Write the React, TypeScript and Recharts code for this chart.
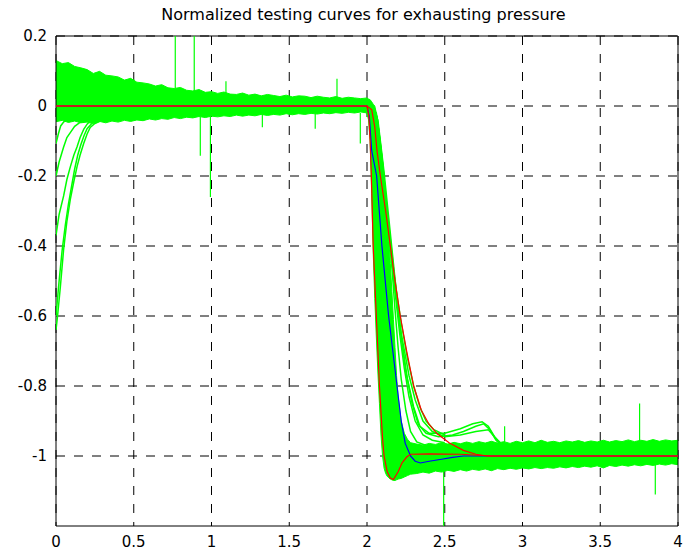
import { ComposedChart, XAxis, YAxis, CartesianGrid, Area, Line, ReferenceArea } from "recharts";

const title = "Normalized testing curves for exhausting pressure";
const xTicks = [0, 0.5, 1, 1.5, 2, 2.5, 3, 3.5, 4];
const yTicks = [0.2, 0, -0.2, -0.4, -0.6, -0.8, -1];

// envelope of all test runs, [time, low, high]
const bandBefore: [number, number, number][] = [
  [0.0, -0.045, 0.13], [0.04, -0.041, 0.121], [0.08, -0.047, 0.124], [0.12, -0.043, 0.113],
  [0.16, -0.048, 0.109], [0.2, -0.046, 0.104], [0.24, -0.051, 0.093], [0.28, -0.044, 0.099],
  [0.32, -0.048, 0.088], [0.36, -0.043, 0.086], [0.4, -0.046, 0.083], [0.44, -0.041, 0.074],
  [0.48, -0.044, 0.079], [0.52, -0.04, 0.068], [0.56, -0.042, 0.066], [0.6, -0.037, 0.063],
  [0.64, -0.04, 0.057], [0.68, -0.036, 0.061], [0.72, -0.038, 0.052], [0.76, -0.033, 0.05],
  [0.8, -0.036, 0.053], [0.84, -0.032, 0.045], [0.88, -0.034, 0.043], [0.92, -0.03, 0.047],
  [0.96, -0.033, 0.039], [1.0, -0.029, 0.041], [1.04, -0.031, 0.036], [1.08, -0.028, 0.04],
  [1.12, -0.03, 0.034], [1.16, -0.026, 0.033], [1.2, -0.029, 0.037], [1.24, -0.026, 0.031],
  [1.28, -0.028, 0.034], [1.32, -0.024, 0.029], [1.36, -0.027, 0.033], [1.4, -0.024, 0.03],
  [1.44, -0.026, 0.027], [1.48, -0.022, 0.031], [1.52, -0.025, 0.026], [1.56, -0.022, 0.029],
  [1.6, -0.024, 0.028], [1.64, -0.021, 0.024], [1.68, -0.023, 0.028], [1.72, -0.02, 0.025],
  [1.76, -0.022, 0.023], [1.8, -0.019, 0.027], [1.84, -0.021, 0.022], [1.88, -0.018, 0.025],
  [1.92, -0.02, 0.023], [1.96, -0.017, 0.021], [2.0, -0.02, 0.023],
];

const bandDrop: [number, number, number][] = [
  [2.01, -0.04, 0.02], [2.02, -0.1, 0.018], [2.03, -0.25, 0.012], [2.04, -0.42, 0.005],
  [2.05, -0.55, 0.0], [2.06, -0.66, -0.02], [2.07, -0.76, -0.05], [2.08, -0.85, -0.08],
  [2.09, -0.94, -0.12], [2.1, -1.0, -0.16], [2.11, -1.035, -0.2], [2.12, -1.05, -0.26],
  [2.13, -1.058, -0.32], [2.14, -1.062, -0.38], [2.15, -1.066, -0.45], [2.16, -1.068, -0.53],
  [2.17, -1.07, -0.61], [2.18, -1.07, -0.69], [2.19, -1.068, -0.77], [2.2, -1.066, -0.83],
  [2.22, -1.064, -0.9], [2.24, -1.06, -0.935], [2.26, -1.056, -0.952], [2.28, -1.052, -0.962],
];

const bandAfter: [number, number, number][] = [
  [2.32, -1.05, -0.966], [2.36, -1.046, -0.969], [2.4, -1.049, -0.964], [2.44, -1.043, -0.967],
  [2.48, -1.046, -0.962], [2.52, -1.041, -0.966], [2.56, -1.044, -0.961], [2.6, -1.039, -0.965],
  [2.64, -1.043, -0.96], [2.68, -1.038, -0.964], [2.72, -1.041, -0.959], [2.76, -1.037, -0.963],
  [2.8, -1.042, -0.958], [2.84, -1.036, -0.963], [2.88, -1.039, -0.959], [2.92, -1.035, -0.964],
  [2.96, -1.038, -0.958], [3.0, -1.034, -0.962], [3.04, -1.037, -0.957], [3.08, -1.033, -0.962],
  [3.12, -1.036, -0.955], [3.16, -1.033, -0.961], [3.2, -1.035, -0.958], [3.24, -1.031, -0.962],
  [3.28, -1.034, -0.957], [3.32, -1.03, -0.96], [3.36, -1.033, -0.956], [3.4, -1.029, -0.961],
  [3.44, -1.032, -0.957], [3.48, -1.028, -0.96], [3.52, -1.034, -0.955], [3.56, -1.027, -0.96],
  [3.6, -1.03, -0.956], [3.64, -1.026, -0.959], [3.68, -1.029, -0.954], [3.72, -1.025, -0.959],
  [3.76, -1.028, -0.955], [3.8, -1.024, -0.958], [3.84, -1.027, -0.953], [3.88, -1.023, -0.958],
  [3.92, -1.026, -0.954], [3.96, -1.022, -0.957], [4.0, -1.025, -0.955],
];

// slow start-up runs at the left edge
const startA: [number, number][] = [
  [0, -0.64], [0.01, -0.6], [0.028, -0.517], [0.049, -0.41], [0.07, -0.33], [0.092, -0.267],
  [0.115, -0.215], [0.135, -0.174], [0.155, -0.14], [0.178, -0.107], [0.2, -0.08], [0.22, -0.061],
  [0.25, -0.05], [0.285, -0.043],
];
const startB: [number, number][] = [
  [0, -0.6], [0.02, -0.5], [0.04, -0.41], [0.06, -0.34], [0.08, -0.28], [0.1, -0.23],
  [0.12, -0.18], [0.14, -0.14], [0.16, -0.11], [0.18, -0.085], [0.2, -0.065], [0.23, -0.05],
];
const startC: [number, number][] = [
  [0, -0.37], [0.02, -0.31], [0.049, -0.257], [0.07, -0.21], [0.092, -0.174], [0.115, -0.14],
  [0.135, -0.117], [0.155, -0.09], [0.178, -0.067], [0.2, -0.052], [0.22, -0.043],
];
const startD: [number, number][] = [
  [0, -0.2], [0.02, -0.16], [0.049, -0.117], [0.07, -0.09], [0.092, -0.076], [0.12, -0.058],
  [0.15, -0.048], [0.18, -0.042],
];
const startE: [number, number][] = [[0, -0.107], [0.015, -0.08], [0.03, -0.057], [0.05, -0.045], [0.07, -0.04]];

// slower runs on the right side of the drop
const slow1: [number, number][] = [
  [2.0, 0.01], [2.05, -0.01], [2.08, -0.1], [2.11, -0.22], [2.14, -0.36], [2.16, -0.46], [2.18, -0.58],
  [2.2, -0.69], [2.22, -0.78], [2.25, -0.87], [2.28, -0.93], [2.32, -0.96], [2.38, -0.97],
];
const slow2: [number, number][] = [
  [2.0, 0.01], [2.06, -0.02], [2.09, -0.12], [2.12, -0.26], [2.15, -0.4], [2.18, -0.53], [2.21, -0.65],
  [2.24, -0.75], [2.27, -0.83], [2.31, -0.9], [2.36, -0.94], [2.42, -0.955], [2.5, -0.962],
];
const slow3: [number, number][] = [
  [2.0, 0.01], [2.06, -0.03], [2.1, -0.16], [2.13, -0.3], [2.16, -0.42], [2.19, -0.55], [2.22, -0.66],
  [2.25, -0.76], [2.29, -0.85], [2.33, -0.91], [2.38, -0.935], [2.46, -0.945], [2.55, -0.94],
  [2.62, -0.93], [2.7, -0.915], [2.75, -0.908], [2.79, -0.925], [2.83, -0.955], [2.86, -0.968],
];
const slow4: [number, number][] = [
  [2.0, 0.01], [2.07, -0.04], [2.11, -0.19], [2.14, -0.32], [2.17, -0.45], [2.2, -0.58], [2.23, -0.69],
  [2.26, -0.78], [2.3, -0.86], [2.34, -0.915], [2.4, -0.935], [2.5, -0.935], [2.6, -0.922],
  [2.68, -0.908], [2.74, -0.902], [2.78, -0.915], [2.82, -0.945], [2.86, -0.965],
];
const slow5: [number, number][] = [
  [2.0, 0.01], [2.065, -0.03], [2.1, -0.17], [2.14, -0.36], [2.18, -0.52], [2.22, -0.65], [2.27, -0.77],
  [2.31, -0.84], [2.36, -0.9], [2.42, -0.93], [2.5, -0.945], [2.6, -0.94], [2.7, -0.93],
  [2.78, -0.925], [2.83, -0.95], [2.87, -0.967],
];
const slow6: [number, number][] = [
  [2.0, 0.01], [2.07, -0.05], [2.1, -0.18], [2.13, -0.31], [2.16, -0.43], [2.19, -0.53], [2.22, -0.62],
  [2.26, -0.72], [2.3, -0.8], [2.34, -0.86], [2.38, -0.9], [2.43, -0.925], [2.5, -0.94],
];

// single-sample glitches: [time, from, to]
const spikes: [number, number, number][] = [
  [0.5, 0.06, 0.076], [0.767, 0.05, 0.2], [0.889, 0.04, 0.2], [0.928, -0.03, -0.142],
  [0.993, -0.03, -0.26], [1.093, 0.03, 0.071], [1.327, -0.02, -0.061], [1.667, -0.02, -0.065],
  [1.807, 0.02, 0.078], [1.957, -0.02, -0.107], [2.493, -1.03, -1.2], [2.885, -0.96, -0.915],
  [3.753, -0.96, -0.85], [3.854, -1.02, -1.11],
];

const meanCurve: [number, number][] = [
  [0, 0], [2.0, 0], [2.015, -0.03], [2.03, -0.127], [2.062, -0.2], [2.096, -0.4], [2.139, -0.6],
  [2.193, -0.8], [2.22, -0.9], [2.246, -0.964], [2.28, -1.0], [2.31, -1.015], [2.343, -1.02],
  [2.4, -1.015], [2.47, -1.01], [2.55, -1.004], [2.62, -1.0], [4, -1],
];
const fastBound: [number, number][] = [
  [0, 0], [2.0, 0], [2.012, -0.03], [2.02, -0.1], [2.028, -0.2], [2.04, -0.4], [2.06, -0.6],
  [2.08, -0.8], [2.1, -0.95], [2.11, -1.0], [2.13, -1.045], [2.15, -1.063], [2.17, -1.067],
  [2.2, -1.045], [2.225, -1.02], [2.255, -1.003], [2.28, -0.995], [2.4, -0.994], [2.6, -0.995],
  [2.8, -1.0], [4, -1],
];
const slowBound: [number, number][] = [
  [0, 0], [2.0, 0], [2.03, -0.01], [2.05, -0.06], [2.064, -0.127], [2.086, -0.2], [2.12, -0.3],
  [2.15, -0.4], [2.18, -0.5], [2.214, -0.6], [2.255, -0.7], [2.3, -0.8], [2.35, -0.87],
  [2.4, -0.91], [2.45, -0.936], [2.53, -0.963], [2.62, -0.984], [2.7, -0.995], [2.77, -1.0], [4, -1],
];

const bandRows = [...bandBefore, ...bandDrop, ...bandAfter].map(([x, lo, hi]) => ({ x, band: [lo, hi] }));
const toRows = (pts: [number, number][]) => pts.map(([x, y]) => ({ x, y }));

const greenRuns = [startA, startB, startC, startD, startE, slow1, slow2, slow3, slow4, slow5, slow6];
const GREEN = "#00ff00";
const tickStyle = { fill: "#000", fontSize: 15, fontFamily: "DejaVu Sans" };

export default function App() {
  return (
    <div style={{ position: "absolute", left: 0, top: 0, width: 684, height: 552, background: "#fff", fontFamily: "DejaVu Sans" }}>
      <div style={{ position: "absolute", left: 50, top: 7, width: 627, textAlign: "center", fontSize: 16, lineHeight: "16px", color: "#000" }}>
        {title}
      </div>
      <ComposedChart width={684} height={552} data={bandRows} margin={{ top: 36, right: 6, bottom: 0, left: 0 }}>
        <CartesianGrid stroke="#000" strokeDasharray="9 9" horizontalValues={yTicks} verticalValues={xTicks} />
        <XAxis
          dataKey="x"
          type="number"
          domain={[0, 4]}
          ticks={xTicks}
          height={26}
          axisLine={false}
          tickLine={false}
          tickSize={0}
          tickMargin={10}
          tick={tickStyle}
          allowDataOverflow
        />
        <YAxis
          type="number"
          domain={[-1.2, 0.2]}
          ticks={yTicks}
          width={56}
          axisLine={false}
          tickLine={false}
          tickSize={0}
          tickMargin={9}
          tick={tickStyle}
          allowDataOverflow
        />
        <Area dataKey="band" type="linear" fill={GREEN} fillOpacity={1} stroke={GREEN} strokeWidth={1} isAnimationActive={false} />
        {greenRuns.map((run, i) => (
          <Line key={`run-${i}`} data={toRows(run)} dataKey="y" type="linear" stroke={GREEN} strokeWidth={1.5} dot={false} isAnimationActive={false} />
        ))}
        {spikes.map(([x, a, b], i) => (
          <Line key={`spike-${i}`} data={[{ x, y: a }, { x, y: b }]} dataKey="y" stroke={GREEN} strokeWidth={1.2} dot={false} isAnimationActive={false} />
        ))}
        <Line data={toRows(meanCurve)} dataKey="y" type="linear" stroke="#0000ff" strokeWidth={1.2} dot={false} isAnimationActive={false} />
        <Line data={toRows(fastBound)} dataKey="y" type="linear" stroke="#ff0000" strokeWidth={1.2} dot={false} isAnimationActive={false} />
        <Line data={toRows(slowBound)} dataKey="y" type="linear" stroke="#ff0000" strokeWidth={1.2} dot={false} isAnimationActive={false} />
        <ReferenceArea x1={0} x2={4} y1={-1.2} y2={0.2} fill="none" stroke="#000" strokeWidth={1} />
      </ComposedChart>
    </div>
  );
}
